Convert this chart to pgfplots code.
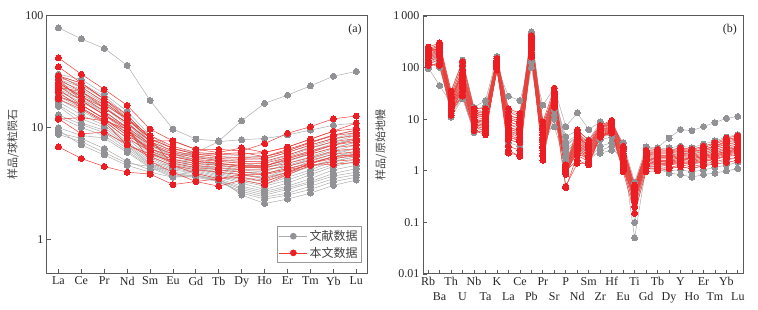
\documentclass[border=0pt]{standalone}
\usepackage{fontspec}
\setmainfont{Liberation Serif}
\newfontfamily\cjk{Noto Sans CJK SC}
\usepackage{pgfplots}
\pgfplotsset{compat=1.18}
\definecolor{gmk}{RGB}{145,145,150}
\definecolor{gln}{RGB}{172,172,172}
\definecolor{rmk}{RGB}{236,30,36}
\definecolor{rln}{RGB}{236,62,56}
\definecolor{axc}{RGB}{90,90,90}
\pgfplotsset{
 gser/.style={forget plot, color=gln, line width=0.5pt, mark=*, mark size=3pt, mark options={fill=gmk, draw=gmk, line width=0pt}},
 rser/.style={forget plot, color=rln, line width=0.5pt, mark=*, mark size=3pt, mark options={fill=rmk, draw=rmk, line width=0pt}},
 gleg/.style={color=gln, line width=0.6pt, mark=*, mark size=3pt, mark options={fill=gmk, draw=gmk}},
 rleg/.style={color=rln, line width=0.6pt, mark=*, mark size=3pt, mark options={fill=rmk, draw=rmk}},
}
\newcommand{\ser}[2]{\gdef\crd{}\foreach \v [count=\i from 0] in {#2}{\xdef\crd{\crd(\i,\v)}}\edef\tmp{\noexpand\addplot[#1] coordinates {\crd};}\tmp}
\begin{document}
\begin{tikzpicture}
\useasboundingbox (0pt,0pt) rectangle (758pt,310pt);
% ---------------- (a) REE ----------------
\begin{axis}[scale only axis, ymode=log,
  axis line style={draw=axc, line width=1pt},
  tick style={draw=axc, line width=0.8pt},
  major tick length=4pt, minor tick length=0pt,
  xtick pos=bottom, ytick pos=left, tick align=inside,
  tick label style={font=\fontsize{12}{14}\selectfont, text=black!85},
  ylabel style={font=\cjk\fontsize{11}{13}\selectfont, text=black!75},
  at={(47pt,36.7pt)}, anchor=south west,
  width=320.7pt, height=257.6pt,
  xmin=-0.5, xmax=13.5, ymin=0.5, ymax=100,
  xtick={0,...,13},
  xticklabels={La,Ce,Pr,Nd,Sm,Eu,Gd,Tb,Dy,Ho,Er,Tm,Yb,Lu},
  ytick={1,10,100}, yticklabels={1,10,100},
  ylabel={样品/球粒陨石},
  legend image code/.code={\draw[mark repeat=2,mark phase=2,#1] plot coordinates {(0pt,0pt) (14pt,0pt) (28pt,0pt)};},
  legend style={at={(0.982,0.04)}, anchor=south east, draw=gray!80, line width=0.6pt,
    font=\cjk\fontsize{12}{14}\selectfont, text=black!75, inner sep=2pt, row sep=1pt},
  legend cell align=left]
\ser{gser}{78,62,51,36,17.5,9.7,7.9,7.6,11.5,16.5,19.5,23.6,28.8,31.8}
\ser{gser}{30,27,20,14,8.5,6.5,6.0,7.5,7.8,8.0,8.6,9.5,10.5,11.0}
\ser{gser}{29,25,19,13,8,6,5.8,5.5,5.3,5.2,6.0,7.0,8.0,9.0}
\ser{gser}{27,23,17,12,7.5,6.2,5.5,5.0,4.8,4.5,5.5,6.5,7.5,8.5}
\ser{gser}{26,22,16.5,11.5,7,5.5,5.2,4.8,4.5,4.3,5.0,6.0,7.0,8.0}
\ser{gser}{25,21,15.5,11,6.8,5.8,5.0,4.6,4.2,4.0,4.8,5.5,6.5,7.5}
\ser{gser}{24,20,15,10.5,6.5,5.2,4.8,4.4,4.0,3.8,4.5,5.2,6.2,7.0}
\ser{gser}{23,19,14,10,6.2,5.0,4.6,4.2,3.8,3.6,4.2,5.0,5.8,6.5}
\ser{gser}{22,18,13.5,9.5,6,4.8,4.4,4.0,3.6,3.4,4.0,4.8,5.5,6.2}
\ser{gser}{21,17,13,9,5.8,4.7,4.3,3.9,3.5,3.3,3.8,4.5,5.2,5.8}
\ser{gser}{20,16,12,8.5,5.6,4.5,4.2,3.8,3.4,3.1,3.6,4.2,5.0,5.5}
\ser{gser}{19,15,11.5,8,5.4,4.4,4.1,3.7,3.3,3.0,3.4,4.0,4.7,5.2}
\ser{gser}{18,14,11,7.5,5.2,4.3,4.0,3.6,3.2,2.8,3.2,3.8,4.5,5.0}
\ser{gser}{17,13,10.5,7.2,5.0,4.2,3.9,3.5,3.0,2.7,3.0,3.5,4.2,4.6}
\ser{gser}{16,12,10,7,4.8,4.0,3.8,3.4,2.9,2.6,2.9,3.3,3.9,4.3}
\ser{gser}{15.5,11,9.5,6.8,4.7,3.9,3.7,3.4,2.8,2.5,2.8,3.2,3.7,4.0}
\ser{gser}{13,10.7,9,6.5,4.6,3.8,3.7,3.3,2.7,2.4,2.6,3.0,3.5,3.8}
\ser{gser}{12.5,10,8.5,6.2,4.5,3.7,3.6,3.3,2.6,2.3,2.5,2.8,3.3,3.6}
\ser{gser}{10,8.5,8.1,6,4.4,3.6,3.7,3.5,2.5,2.1,2.3,2.6,3.05,3.4}
\ser{gser}{9.5,7,5.7,4.6,4.0,3.6,4.3,4.0,3.8,3.6,4.0,4.5,5.0,5.5}
\ser{gser}{9,8,6.5,5,4.2,4.4,4.5,4.2,4.0,3.9,4.3,4.9,5.5,6.0}
\ser{gser}{8.7,7.5,6,4.8,4.5,4.8,4.6,4.3,4.2,4.2,4.6,5.3,6.0,6.5}
\ser{gser}{28,24,18,12.5,7.5,5.5,6.0,5.8,5.6,5.5,6.2,7.5,8.5,9.5}
\ser{gser}{23,20,15,11,7,5.8,5.5,5.2,5.0,4.9,5.6,6.8,7.8,8.8}
\ser{gser}{21,18,14,10,6.5,5.2,5.0,4.7,4.6,4.5,5.2,6.2,7.2,8.0}
\ser{gser}{19,16,12,9,6,5.0,4.8,4.6,4.4,4.4,5.0,5.8,6.6,7.4}
\ser{rser}{42,30,22,15.8,9.7,7.6,6.4,6.4,6.2,7.2,8.9,10.2,12,12.7}
\ser{rser}{35,25,18,12,8.5,6.8,6.0,5.8,5.8,6.0,6.7,7.9,9.3,9.8}
\ser{rser}{29,23,17,11.8,8,6.5,5.8,5.5,5.4,5.5,6.2,7.3,8.5,9.0}
\ser{rser}{27,21,15,11,7.5,6.2,5.6,5.3,5.2,5.3,6.0,7.0,8.0,8.5}
\ser{rser}{25,19,14,10,7.2,6.0,5.4,5.1,5.0,5.0,5.7,6.6,7.5,8.0}
\ser{rser}{23.5,17.5,13,9.5,7,5.8,5.2,5.0,4.8,4.8,5.4,6.2,7.0,7.5}
\ser{rser}{22,16,12,8.5,6.5,5.5,5.0,4.8,4.6,4.6,5.1,5.8,6.6,7.0}
\ser{rser}{20.7,15,11.5,8,6.2,5.2,4.8,4.6,4.4,4.4,4.8,5.4,6.2,6.5}
\ser{rser}{18,14.6,11.2,7,5.8,5.0,4.6,4.4,4.2,4.2,4.5,5.1,5.8,6.1}
\ser{rser}{12,8.8,9.1,7.1,5.5,4.6,4.2,4.0,3.8,3.8,4.2,4.6,5.0,5.2}
\ser{rser}{11.9,12.3,11.5,9.7,6,4.8,4.4,4.2,4.0,3.9,4.3,4.8,5.3,5.6}
\ser{rser}{6.75,5.3,4.5,4.0,3.85,3.1,3.3,3.0,3.4,3.1,3.8,4.6,4.7,4.9}
\ser{rser}{27,17.5,13,10,5.0,4.0,3.3,3.5,3.8,3.5,4.0,4.8,5.5,5.8}
\ser{rser}{25,19,15,11,7.6,7.6,6.4,6.0,6.6,6.0,6.7,7.9,9.3,11}
\ser{rser}{23,21,16,12,8,6.5,5.8,5.8,6.0,5.5,6.4,7.4,8.6,9.5}
\ser{rser}{19,16,12,9,6.5,5.5,5.0,4.8,4.5,4.5,5.3,6.0,7.0,7.8}
\ser{rser}{29,25,18,13,8,4.6,3.9,3.5,3.6,3.3,3.9,4.8,5.5,5.7}
\addlegendimage{gleg}\addlegendentry{文献数据}
\addlegendimage{rleg}\addlegendentry{本文数据}
\node[anchor=north east, font=\fontsize{12}{14}\selectfont, text=black!85] at (rel axis cs:0.992,0.982) {(a)};
\end{axis}
% ---------------- (b) spider ----------------
\begin{axis}[scale only axis, ymode=log,
  axis line style={draw=axc, line width=1pt},
  tick style={draw=axc, line width=0.8pt},
  major tick length=4pt, minor tick length=0pt,
  xtick pos=bottom, ytick pos=left, tick align=inside,
  tick label style={font=\fontsize{12}{14}\selectfont, text=black!85},
  ylabel style={font=\cjk\fontsize{11}{13}\selectfont, text=black!75},
  at={(423pt,36pt)}, anchor=south west,
  width=320pt, height=258pt,
  xmin=-0.45, xmax=27.45, ymin=0.01, ymax=1000,
  xtick={0,2,...,26},
  xticklabels={Rb,Th,Nb,K,Ce,Pr,P,Sm,Hf,Ti,Tb,Y,Er,Yb},
  extra x ticks={1,3,...,27},
  extra x tick labels={Ba,U,Ta,La,Pb,Sr,Nd,Zr,Eu,Gd,Dy,Ho,Tm,Lu},
  extra x tick style={tick label style={yshift=-15pt}},
  ytick={0.01,0.1,1,10,100,1000}, yticklabels={0.01,0.1,1,10,100,1\,000},
  ylabel={样品/原始地幔}]
\ser{gser}{100,45,20,80,8,10,100,28,23,150,18.8,40,7.2,13.2,6.3,8.9,7,3.5,0.6,2.9,2.8,4.3,6.3,6.0,7.2,8.6,10.4,11.3}
\ser{gser}{95,140,11,25,5.5,6,90,7,6,100,6,7.1,1.4,3,2,2.2,2.5,2.0,0.05,1.2,1.1,0.9,0.85,0.75,0.85,0.9,1.0,1.1}
\ser{gser}{230,250,35,140,17,23,165,15,12,490,9,25,4.6,6,4,8.5,8,3.5,0.1,2.8,2.6,2.8,3.0,2.8,3.3,3.8,4.5,5.0}
\ser{gser}{200,280,30,120,15,18,150,12,10,450,8,30,3.5,5,3.5,7.5,7.5,3,0.5,2.5,2.4,2.5,2.7,2.6,3,3.4,4,4.5}
\ser{gser}{180,220,25,100,13,15,140,10,8.5,400,6.5,28,3,4.5,3,6.5,6.8,2.8,0.45,2.3,2.2,2.2,2.4,2.3,2.6,2.9,3.5,3.8}
\ser{gser}{160,200,22,80,11,12,130,8,7,350,5.5,25,2.6,4,2.7,6,6.3,2.6,0.4,2.1,2.0,2.0,2.2,2.1,2.3,2.6,3.0,3.3}
\ser{gser}{140,180,20,60,10,10,120,7,6,300,4.8,22,2.3,3.5,2.4,5.5,6,2.4,0.35,1.9,1.8,1.8,2.0,1.9,2.1,2.3,2.7,3.0}
\ser{gser}{120,160,18,50,9,9,110,6,5,250,4.2,20,2.0,3.2,2.2,5,5.5,2.2,0.3,1.7,1.6,1.6,1.8,1.7,1.9,2.1,2.4,2.7}
\ser{gser}{110,150,16,40,8,8,100,5,4.5,200,3.8,18,1.8,3,2,4.5,5,2,0.28,1.5,1.4,1.4,1.6,1.5,1.7,1.9,2.2,2.4}
\ser{gser}{100,130,14,35,7,7,95,4.5,4,180,3.3,15,1.6,2.7,1.8,4,4.5,1.8,0.25,1.4,1.3,1.3,1.4,1.3,1.5,1.7,1.9,2.1}
\ser{gser}{130,170,13,30,6,6.5,90,4,3.5,150,3,12,1.5,2.5,1.7,3,3.5,1.6,0.2,1.3,1.2,1.15,1.2,1.1,1.3,1.4,1.6,1.8}
\ser{gser}{150,190,12,28,5.8,6,100,3.5,3,130,2.7,10,1.4,2.3,1.6,2.5,3.0,1.5,0.15,1.1,1.05,1.0,1.05,0.95,1.05,1.15,1.3,1.45}
\ser{gser}{210,230,24,90,12,13,150,9,7.5,380,6,35,3.2,4.6,3,7,7.2,3,0.45,2.2,2.1,2.1,2.3,2.2,2.5,2.8,3.2,3.6}
\ser{gser}{170,210,19,45,9.5,9.5,125,6.5,5.5,280,4.5,23,2.4,3.6,2.5,5.8,6.2,2.5,0.38,1.8,1.7,1.7,1.9,1.8,2.0,2.2,2.6,2.8}
\ser{gser}{125,100,16,35,7.5,7.5,105,5.5,5,220,4,19,1.9,3.3,2.3,4.8,5.2,2.1,0.32,1.6,1.5,1.5,1.7,1.6,1.75,1.95,2.25,2.5}
\ser{rser}{250,300,35,130,16,16,150,16,13,420,8.9,40,1.3,6.2,3.9,7.6,9.5,3.0,0.53,2.5,2.6,2.5,2.8,2.6,3.0,3.5,4.3,4.8}
\ser{rser}{230,280,30,110,15,14,140,14,11,380,7.5,35,1.2,5.5,3.5,7.2,9.0,2.8,0.5,2.4,2.4,2.4,2.6,2.5,2.8,3.3,4.0,4.5}
\ser{rser}{220,260,28,90,14,13,135,12,10,350,6.5,32,1.1,5.0,3.2,7.0,8.5,2.6,0.45,2.2,2.2,2.2,2.4,2.3,2.6,3.0,3.6,4.0}
\ser{rser}{200,240,25,75,13,12,130,10,8.5,320,5.5,30,1.05,4.5,3.0,6.5,8.0,2.4,0.42,2.1,2.0,2.0,2.2,2.1,2.4,2.8,3.3,3.6}
\ser{rser}{190,220,24,65,12,11,125,9,7.5,300,5.0,28,1.0,4.2,2.8,6.2,7.5,2.2,0.4,2.0,1.9,1.9,2.1,2.0,2.2,2.6,3.0,3.3}
\ser{rser}{180,210,22,60,11,10,120,8,6.5,280,4.5,26,0.97,3.8,2.6,6.0,7.2,2.0,0.38,1.9,1.8,1.8,2.0,1.9,2.1,2.4,2.8,3.0}
\ser{rser}{170,200,21,55,10,9,115,7,6,260,4.0,25,0.95,3.5,2.5,5.8,7.0,1.9,0.36,1.8,1.7,1.7,1.9,1.8,2.0,2.2,2.6,2.8}
\ser{rser}{160,190,20,50,9.5,8.5,110,6.5,5.5,240,3.6,24,0.9,3.2,2.3,5.5,6.8,1.8,0.34,1.7,1.6,1.6,1.8,1.7,1.9,2.1,2.4,2.6}
\ser{rser}{150,180,19,45,9,8,105,6,5,220,3.3,22,0.92,3.0,2.2,5.2,6.5,1.6,0.32,1.6,1.5,1.5,1.7,1.6,1.8,2.0,2.3,2.5}
\ser{rser}{140,170,18,42,8.5,7.5,100,5.5,4.5,200,3.0,21,0.88,2.8,2.0,5.0,6.2,1.5,0.3,1.5,1.4,1.45,1.6,1.5,1.7,1.9,2.2,2.4}
\ser{rser}{130,160,17,40,8,7,95,5,4,190,2.8,20,0.85,2.6,1.9,4.8,6.0,1.4,0.28,1.4,1.35,1.4,1.5,1.45,1.6,1.8,2.1,2.3}
\ser{rser}{120,140,16,35,7.5,6.5,92,4.5,3.8,180,2.5,19,0.9,2.4,1.8,4.6,5.8,1.3,0.26,1.3,1.3,1.35,1.45,1.4,1.55,1.7,2.0,2.2}
\ser{rser}{110,120,15,30,7,6,90,4,3.5,170,2.2,18,0.97,2.2,1.7,4.5,5.6,1.2,0.25,1.2,1.2,1.3,1.4,1.35,1.5,1.65,1.9,2.0}
\ser{rser}{115,110,14,28,6,5,100,3,2.5,160,2.0,17,0.47,2.0,1.5,4.6,5.5,1.1,0.2,1.1,1.1,1.15,1.3,1.2,1.35,1.5,1.7,1.8}
\ser{rser}{200,250,12,45,6,5.5,95,2.5,1.9,200,1.6,20,0.5,1.4,1.4,4.5,5.4,0.97,0.15,0.97,1.0,1.1,1.2,1.1,1.25,1.35,1.45,1.6}
\ser{rser}{240,200,26,80,13,12,140,11,9,330,6,33,1.1,4.8,3.0,6.8,8.2,2.7,0.4,2.3,2.3,2.3,2.5,2.4,2.6,3.0,3.8,4.2}
\ser{rser}{210,230,27,70,12,11,130,2.2,2.0,260,1.9,28,1.0,1.6,1.3,4.8,6,1.0,0.35,1.6,1.5,1.6,1.8,1.7,1.9,2.1,2.4,2.7}
\node[anchor=north east, font=\fontsize{12}{14}\selectfont, text=black!85] at (rel axis cs:0.992,0.982) {(b)};
\end{axis}
\end{tikzpicture}
\end{document}
